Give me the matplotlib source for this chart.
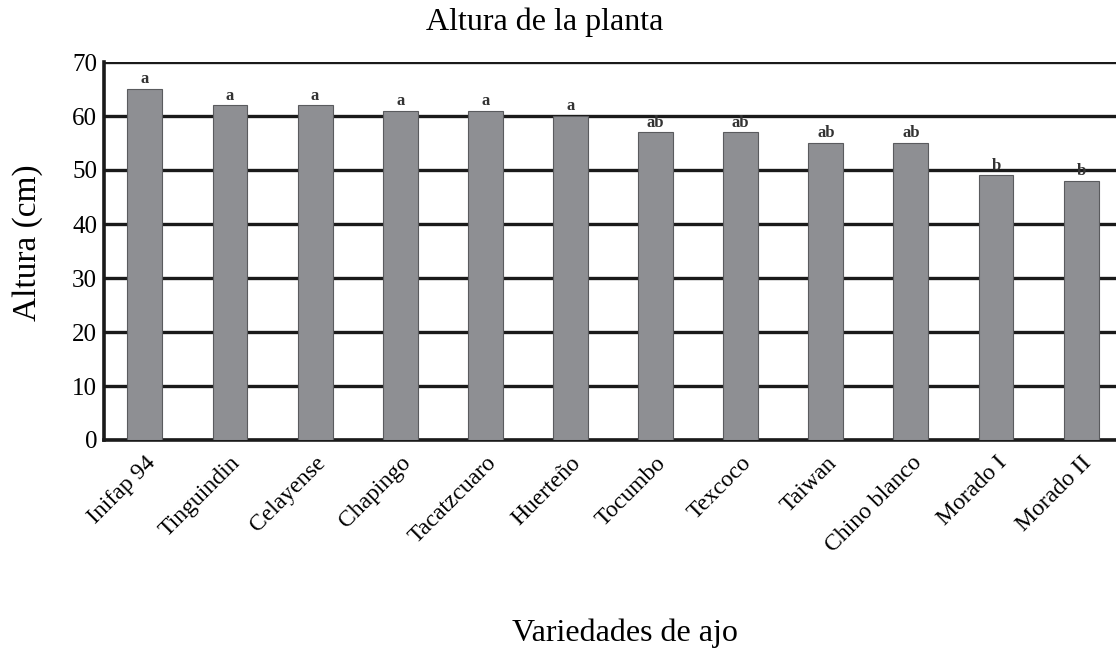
import matplotlib.pyplot as plt

variedades = ["Inifap 94", "Tinguindin", "Celayense", "Chapingo", "Tacatzcuaro",
              "Huerteño", "Tocumbo", "Texcoco", "Taiwan", "Chino blanco",
              "Morado I", "Morado II"]
altura = [65, 62, 62, 61, 61, 60, 57, 57, 55, 55, 49, 48]
letras = ["a", "a", "a", "a", "a", "a", "ab", "ab", "ab", "ab", "b", "b"]
yticks = [0, 10, 20, 30, 40, 50, 60, 70]

plt.rcParams["font.family"] = ["Liberation Serif", "DejaVu Serif"]

fig = plt.figure(figsize=(11.16, 6.51), dpi=100)
ax = fig.add_axes([104 / 1116, 1 - 440 / 651, 1 - 104 / 1116, (440 - 62) / 651])

x = list(range(len(variedades)))
ax.bar(x, altura, width=0.41, color="#8e8f93", edgecolor="#5a5b5e",
       linewidth=0.8, zorder=3)
for xi, v, l in zip(x, altura, letras):
    ax.text(xi, v + 0.3, l, ha="center", va="bottom", fontsize=12,
            fontweight="bold", color="#333333", zorder=4)

ax.set_ylim(0, 70)
ax.set_xlim(-0.48, 11.41)
ax.set_yticks(yticks)
ax.yaxis.grid(True, color="#1a1a1a", linewidth=2.4, zorder=0)
ax.set_axisbelow(True)
for s in ["top", "right"]:
    ax.spines[s].set_visible(False)
for s in ["left", "bottom"]:
    ax.spines[s].set_linewidth(2.6)
    ax.spines[s].set_color("#1a1a1a")
ax.tick_params(axis="y", length=0, pad=5, labelsize=18)
ax.tick_params(axis="x", length=0, pad=9, labelsize=17)
ax.set_xticks(x)
ax.set_xticklabels(variedades, rotation=45, ha="right", rotation_mode="anchor")

fig.text(545 / 1116, 1 - 22 / 651, "Altura de la planta", ha="center",
         va="center", fontsize=23)
fig.text(28 / 1116, 1 - 243 / 651, "Altura (cm)", ha="center", va="center",
         rotation=90, fontsize=24)
fig.text(625 / 1116, 1 - 633 / 651, "Variedades de ajo", ha="center",
         va="center", fontsize=23)

fig.savefig("out.png", dpi=100)
